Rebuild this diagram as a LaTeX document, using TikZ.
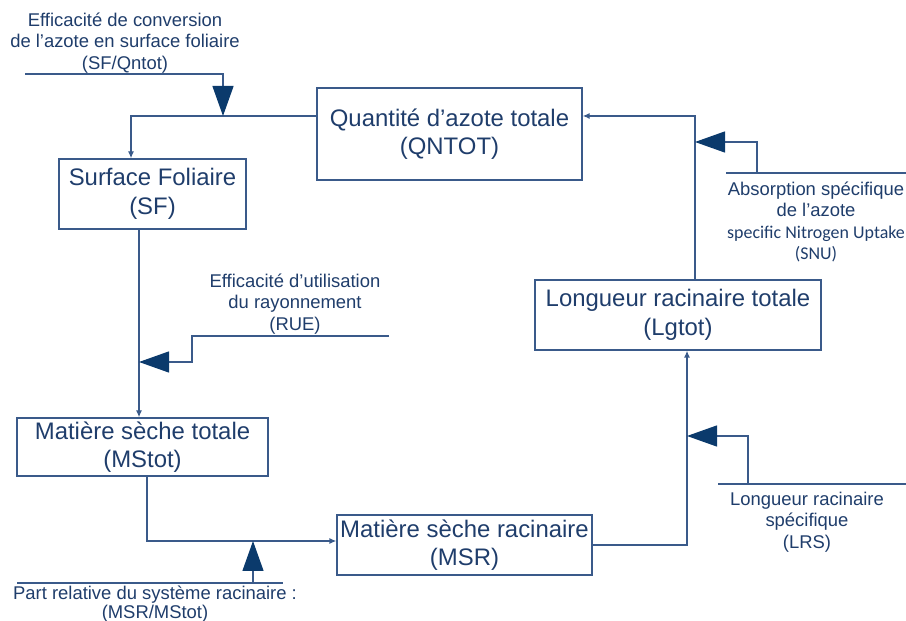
\documentclass[tikz,border=0pt]{standalone}
\usepackage{fontspec}
\setmainfont{Liberation Sans}
\newfontfamily\carlitofont{Carlito}
\usetikzlibrary{arrows.meta}
\definecolor{navytext}{HTML}{1F3D6B}
\definecolor{navyline}{HTML}{3A5A8A}
\definecolor{navyfill}{HTML}{0B3A6C}
\begin{document}
\begin{tikzpicture}[>={Latex[length=7bp,width=6bp]},
  box/.style={draw=navyline,line width=1.3bp,text=navytext,align=center,inner sep=0pt,font=\fontsize{24}{28.5}\selectfont},
  lbl/.style={draw=none,text=navytext,align=center,inner sep=0pt,font=\fontsize{18.5}{21.5}\selectfont},
  conn/.style={navyline,line width=1.3bp,->},
  input/.style={navyline,line width=1.3bp,-{Triangle[length=30bp,width=21bp,color=navyfill]}},
  bar/.style={navyline,line width=1.3bp},]
\useasboundingbox (0bp,0bp) rectangle (906bp,621bp);
%%
\node (node_qntot) at (449.5bp,487bp) [box,minimum width=265bp,minimum height=92bp] {Quantité d’azote totale\\(QNTOT)};
  \node (node_sf) at (152.5bp,427bp) [box,minimum width=187bp,minimum height=70bp] {Surface Foliaire\\(SF)};
  \node (node_lgtot) at (678bp,306bp) [box,minimum width=286bp,minimum height=70bp] {Longueur racinaire totale\\(Lgtot)};
  \node (node_mstot) at (142.5bp,174bp) [box,minimum width=251bp,minimum height=58bp] {Matière sèche totale\\(MStot)};
  \node (node_msr) at (464.5bp,76bp) [box,minimum width=255bp,minimum height=60bp] {Matière sèche racinaire\\(MSR)};
  \node (node_lsfq) at (125bp,578bp) [lbl] {Efficacité de conversion\\de l’azote en surface foliaire\\(SF/Qntot)};
  \node (node_lrue) at (295bp,317bp) [lbl] {Efficacité d’utilisation\\du rayonnement\\(RUE)};
  \node (node_lsnu) at (816bp,399bp) [lbl] {Absorption spécifique\\de l’azote\\{\carlitofont\fontsize{18}{22}\selectfont specific Nitrogen Uptake}\\{\carlitofont\fontsize{18}{22}\selectfont (SNU)}};
  \node (node_llrs) at (807bp,99bp) [lbl] {Longueur racinaire\\spécifique\\(LRS)};
  \node (node_lpart) at (155bp,17bp) [lbl,font=\fontsize{18.5}{19.5}\selectfont] {Part relative du système racinaire :\\(MSR/MStot)};
%
\coordinate (j_sfq) at (223bp,505bp);
  \coordinate (j_rue) at (139bp,259bp);
  \coordinate (j_part) at (253bp,80bp);
  \coordinate (j_lrs) at (687bp,185bp);
  \coordinate (j_snu) at (695bp,479bp);
  \coordinate (in_sfq) at (25bp,547bp);
  \coordinate (in_rue) at (389bp,285bp);
  \coordinate (part_l) at (17bp,38bp);
  \coordinate (part_r) at (283bp,38bp);
  \coordinate (lrs_l) at (718bp,137bp);
  \coordinate (lrs_r) at (906bp,137bp);
  \coordinate (snu_l) at (726bp,448bp);
  \coordinate (snu_r) at (906bp,448bp);
%
\draw [conn] (node_qntot.west |- j_sfq) -| ([xshift=-21.5bp]node_sf.north);
  \draw [conn] (node_sf.south -| j_rue) -- (node_mstot.north -| j_rue);
  \draw [conn] ([xshift=4.5bp]node_mstot.south) |- (node_msr.west |- j_part);
  \draw [conn] (node_msr.east) -| (node_lgtot.south -| j_lrs);
  \draw [conn] (node_lgtot.north -| j_snu) |- (node_qntot.east |- j_sfq);
%
\draw [input] (in_sfq) -| (j_sfq);
  \draw [input] (in_rue) -| ([xshift=53bp]j_rue) -- (j_rue);
  \draw [bar] (part_l) -- (part_r);
  \draw [input] (part_l -| j_part) -- (j_part);
  \draw [bar] (lrs_l) -- (lrs_r);
  \draw [input] ([xshift=30bp]lrs_l) |- (j_lrs);
  \draw [bar] (snu_l) -- (snu_r);
  \draw [input] ([xshift=31bp]snu_l) |- (j_snu);
%
\end{tikzpicture}
\end{document}
